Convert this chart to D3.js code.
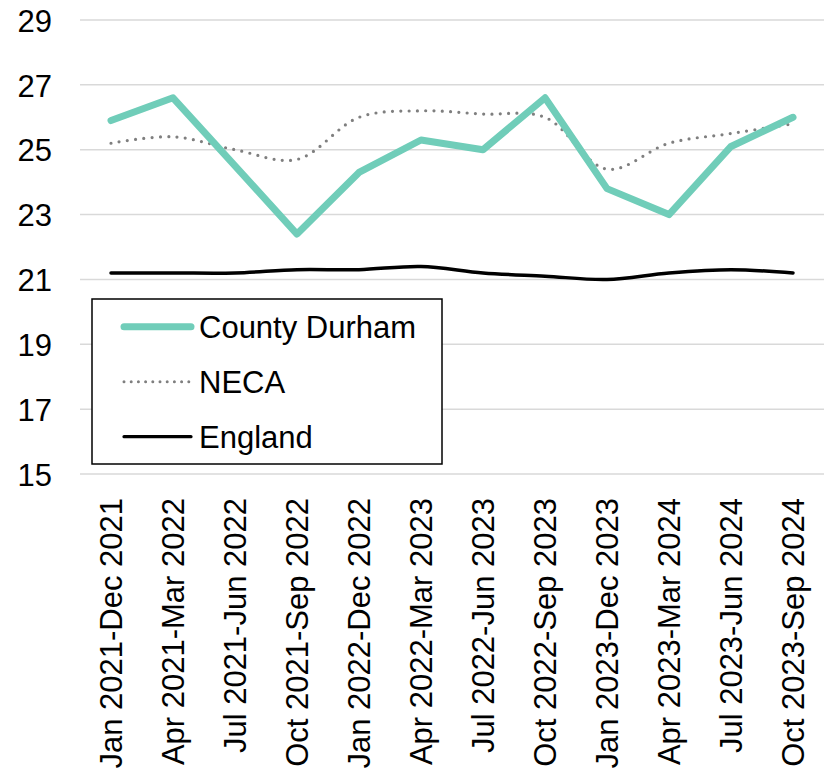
<!DOCTYPE html>
<html>
<head>
<meta charset="utf-8">
<script src="https://cdn.jsdelivr.net/npm/d3@7"></script>
<style>
  body { margin: 0; background: #fff; }
  text { font-family: "Liberation Sans", Arial, sans-serif; fill: #000; }
</style>
</head>
<body>
<script>
const periods = [
  'Jan 2021-Dec 2021', 'Apr 2021-Mar 2022', 'Jul 2021-Jun 2022', 'Oct 2021-Sep 2022',
  'Jan 2022-Dec 2022', 'Apr 2022-Mar 2023', 'Jul 2022-Jun 2023', 'Oct 2022-Sep 2023',
  'Jan 2023-Dec 2023', 'Apr 2023-Mar 2024', 'Jul 2023-Jun 2024', 'Oct 2023-Sep 2024'
];
const countyDurham = [25.9, 26.6, 24.5, 22.4, 24.3, 25.3, 25.0, 26.6, 23.8, 23.0, 25.1, 26.0];
const neca = [25.2, 25.4, 25.0, 24.7, 26.0, 26.2, 26.1, 26.0, 24.4, 25.2, 25.5, 25.8];
const england = [21.2, 21.2, 21.2, 21.3, 21.3, 21.4, 21.2, 21.1, 21.0, 21.2, 21.3, 21.2];
const yTicks = [15, 17, 19, 21, 23, 25, 27, 29];

const width = 827, height = 773;
const margin = {top: 20, right: 3, bottom: 299, left: 80};
const innerW = width - margin.left - margin.right,
    innerH = height - margin.top - margin.bottom;

const svg = d3.select('body').append('svg')
    .attr('width', width)
    .attr('height', height);

const x = d3.scaleBand().domain(periods).range([0, innerW]);
const y = d3.scaleLinear().domain([15, 29]).range([innerH, 0]);

const g = svg.append('g')
    .attr('transform', `translate(${margin.left}, ${margin.top})`);

// gridlines
g.append('g')
    .selectAll('line')
    .data(yTicks)
    .join('line')
    .attr('x1', 0)
    .attr('x2', innerW)
    .attr('y1', d => y(d))
    .attr('y2', d => y(d))
    .attr('stroke', '#d9d9d9')
    .attr('stroke-width', 1.5);

// y axis labels
const yAxis = g.append('g')
    .call(d3.axisLeft(y).tickValues(yTicks).tickSize(0).tickPadding(28));
yAxis.select('.domain').remove();
yAxis.selectAll('text')
    .style('font-size', '31px')
    .style('font-family', '"Liberation Sans", Arial, sans-serif')
    .attr('fill', '#000')
    .attr('dy', '0.36em');

// x axis labels
const xAxis = g.append('g')
    .attr('transform', `translate(0, ${innerH})`)
    .call(d3.axisBottom(x).tickSize(0).tickPadding(0));
xAxis.select('.domain').remove();
xAxis.selectAll('text')
    .style('font-size', '31px')
    .style('font-family', '"Liberation Sans", Arial, sans-serif')
    .attr('fill', '#000')
    .attr('text-anchor', 'end')
    .attr('transform', 'rotate(-90)')
    .attr('x', -24)
    .attr('y', 0)
    .attr('dy', '0.36em');

const cx = (d, i) => x(periods[i]) + x.bandwidth() / 2;

const straight = d3.line().x(cx).y(d => y(d));
const smooth = d3.line().x(cx).y(d => y(d)).curve(d3.curveCatmullRom.alpha(0.5));

g.append('path')
    .datum(england)
    .attr('d', smooth)
    .attr('fill', 'none')
    .attr('stroke', '#000')
    .attr('stroke-width', 3.5)
    .attr('stroke-linecap', 'round');

g.append('path')
    .datum(neca)
    .attr('d', smooth)
    .attr('fill', 'none')
    .attr('stroke', '#7f7f7f')
    .attr('stroke-width', 3.2)
    .attr('stroke-dasharray', '0 8.3')
    .attr('stroke-linecap', 'round');

g.append('path')
    .datum(countyDurham)
    .attr('d', straight)
    .attr('fill', 'none')
    .attr('stroke', '#70cdb9')
    .attr('stroke-width', 7)
    .attr('stroke-linecap', 'round')
    .attr('stroke-linejoin', 'round');

// legend
const legend = svg.append('g').attr('transform', 'translate(92, 299)');
legend.append('rect')
    .attr('width', 350)
    .attr('height', 165)
    .attr('fill', '#fff')
    .attr('stroke', '#000')
    .attr('stroke-width', 1.5);

const legendItems = [
  {name: 'County Durham', color: '#70cdb9', w: 7, dash: null},
  {name: 'NECA', color: '#7f7f7f', w: 3, dash: '0 7.2'},
  {name: 'England', color: '#000', w: 3.2, dash: null}
];

const items = legend.selectAll('g.item')
    .data(legendItems)
    .join('g')
    .attr('class', 'item')
    .attr('transform', (d, i) => `translate(0, ${27.7 + i * 55})`);

items.append('line')
    .attr('x1', 32)
    .attr('x2', 99)
    .attr('stroke', d => d.color)
    .attr('stroke-width', d => d.w)
    .attr('stroke-dasharray', d => d.dash)
    .attr('stroke-linecap', 'round');

items.append('text')
    .attr('x', 107)
    .attr('dy', '0.36em')
    .style('font-size', '31px')
    .text(d => d.name);
</script>
</body>
</html>
